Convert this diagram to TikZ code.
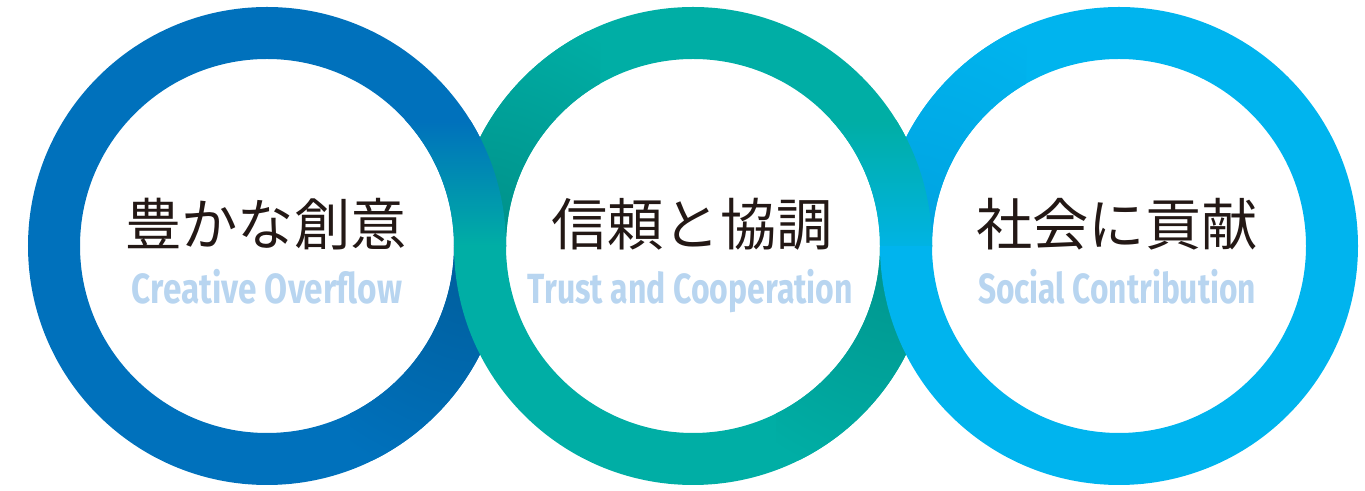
\documentclass[tikz,border=0pt]{standalone}
\usepackage{fontspec}
\setmainfont{Fira Sans}
\newfontfamily\jpfont{Noto Sans CJK JP}
\usetikzlibrary{positioning}

\definecolor{ringblue}{RGB}{0,113,188}
\definecolor{ringteal}{RGB}{0,174,165}
\definecolor{ringsky}{RGB}{0,180,238}
\definecolor{subtext}{RGB}{184,213,240}
\definecolor{titletext}{RGB}{35,24,21}

% squeeze a label to a given width, height kept
\newcommand{\fitw}[2]{\resizebox{#1}{\height}{#2}}

\begin{document}
\begin{tikzpicture}[
    ring/.style = {line width = 5.2mm}, % band of a ring
    title/.style = {font = \jpfont\fontsize{16}{18}\selectfont, text = titletext, anchor = base},
    subtitle/.style = {font = \bfseries\fontsize{12}{14}\selectfont, text = subtext, anchor = base}
    ]
\tikzset{
    every node/.style = {inner sep = 0pt}
    }
    \useasboundingbox (0,0) rectangle (13.65,4.91);

    \coordinate (A) at (2.67,2.45);
    \coordinate (B) at (6.93,2.45);
    \coordinate (C) at (11.19,2.45);

    % first ring, darker where it goes behind
    \draw[ring, ringblue] (A) circle (2.13);
    \begin{scope}[even odd rule]
        \clip (3.5,0) rectangle (6,2.45);
        \clip (A) circle (2.39) (A) circle (1.87);
        \shade[inner color = ringblue!82!black, outer color = ringblue] (4.8,2.45) circle (2.4);
    \end{scope}

    % second ring
    \draw[ring, ringteal] (B) circle (2.13);
    \begin{scope}[even odd rule]
        \clip (3.5,2.45) rectangle (6,4.91);
        \clip (B) circle (2.39) (B) circle (1.87);
        \shade[inner color = ringteal!82!black, outer color = ringteal] (4.8,2.45) circle (2.4);
    \end{scope}
    \begin{scope}[even odd rule]
        \clip (7.76,0) rectangle (10.26,2.45);
        \clip (B) circle (2.39) (B) circle (1.87);
        \shade[inner color = ringteal!85!black, outer color = ringteal] (9.06,2.45) circle (2.4);
    \end{scope}
    % first ring over the second, top half
    \begin{scope}[even odd rule]
        \clip (3.9,2.45) rectangle (5.2,3.7);
        \clip (A) circle (2.39) (A) circle (1.87);
        \shade[top color = ringblue, bottom color = ringteal] (3.9,2.45) rectangle (5.2,3.7);
    \end{scope}

    % third ring
    \draw[ring, ringsky] (C) circle (2.13);
    \begin{scope}[even odd rule]
        \clip (7.76,2.45) rectangle (10.26,4.91);
        \clip (C) circle (2.39) (C) circle (1.87);
        \shade[inner color = ringsky!72!ringblue, outer color = ringsky] (9.06,2.45) circle (2.4);
    \end{scope}
    % second ring over the third, top half
    \begin{scope}[even odd rule]
        \clip (8.16,2.45) rectangle (9.46,3.7);
        \clip (B) circle (2.39) (B) circle (1.87);
        \shade[top color = ringteal, bottom color = ringsky!85!ringteal] (8.16,2.45) rectangle (9.46,3.7);
    \end{scope}

    % labels
    \node[title] (t1) at (2.66,2.45) {豊かな創意};
    \node[subtitle] (s1) at (2.67,1.87) {\fitw{2.70cm}{Creative Overflow}};
    \node[title] (t2) at (6.92,2.45) {信頼と協調};
    \node[subtitle] (s2) at (6.905,1.87) {\fitw{3.25cm}{Trust and Cooperation}};
    \node[title] (t3) at (11.17,2.45) {社会に貢献};
    \node[subtitle] (s3) at (11.17,1.87) {\fitw{2.78cm}{Social Contribution}};
\end{tikzpicture}
\end{document}
